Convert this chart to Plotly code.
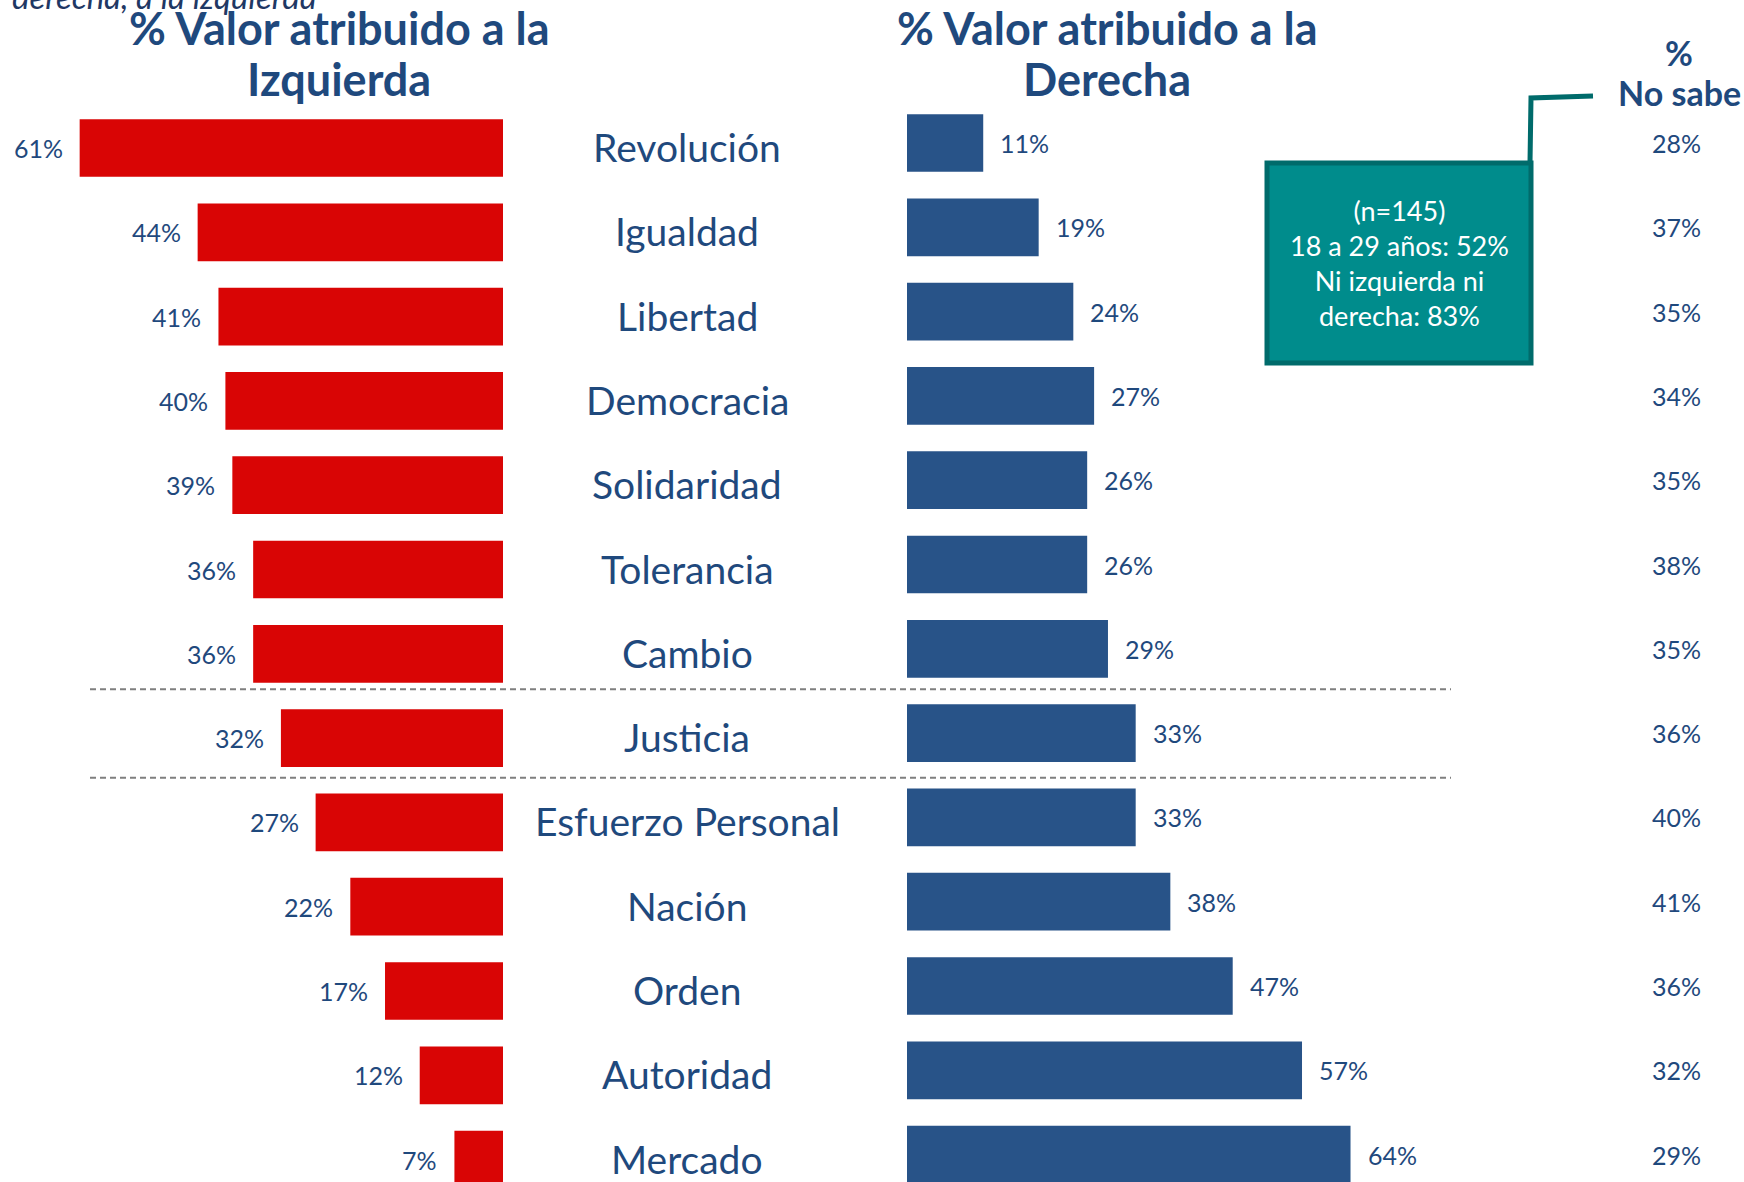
import plotly.graph_objects as go

W, H = 1744, 1182

categorias = ["Revolución", "Igualdad", "Libertad", "Democracia", "Solidaridad",
              "Tolerancia", "Cambio", "Justicia", "Esfuerzo Personal", "Nación",
              "Orden", "Autoridad", "Mercado"]
izquierda = [61, 44, 41, 40, 39, 36, 36, 32, 27, 22, 17, 12, 7]
derecha = [11, 19, 24, 27, 26, 26, 29, 33, 33, 38, 47, 57, 64]
no_sabe = [28, 37, 35, 34, 35, 38, 35, 36, 40, 41, 36, 32, 29]

titulo_izq = ["% Valor atribuido a la", "Izquierda"]
titulo_der = ["% Valor atribuido a la", "Derecha"]
titulo_ns = ["%", "No sabe"]
nota = ["(n=145)", "18 a 29 años: 52%", "Ni izquierda ni", "derecha: 83%"]
subtitulo = "derecha, a la izquierda"

RED = "#D90505"
BLUE = "#285388"
NAVY = "#1F497D"
TEAL = "#008C8C"
TEAL_D = "#006B6B"
FONT = "Lato"

def px(x):
    return x / W

def py(y):
    return 1 - y / H

idx = list(range(len(categorias)))
pitch = 84.3
c_left, c_right = 148.0, 143.0
bw = 57.7 / pitch

fig = go.Figure()
fig.add_trace(go.Bar(orientation="h", y=idx, x=izquierda, xaxis="x", yaxis="y",
                     width=bw, marker=dict(color=RED, line=dict(width=0)),
                     hoverinfo="skip", showlegend=False))
fig.add_trace(go.Bar(orientation="h", y=idx, x=derecha, xaxis="x2", yaxis="y2",
                     width=bw, marker=dict(color=BLUE, line=dict(width=0)),
                     hoverinfo="skip", showlegend=False))

ann = []
for i, (c, l, r, n) in enumerate(zip(categorias, izquierda, derecha, no_sabe)):
    ann.append(dict(xref="x", yref="y", x=l, y=i, text=f"{l}%", xanchor="right",
                    yanchor="middle", xshift=-15, showarrow=False,
                    font=dict(family=FONT, size=25, color=NAVY)))
    ann.append(dict(xref="x2", yref="y2", x=r, y=i, text=f"{r}%", xanchor="left",
                    yanchor="middle", xshift=15, showarrow=False,
                    font=dict(family=FONT, size=25, color=NAVY)))
    ann.append(dict(xref="paper", yref="y", x=px(687), y=i, text=c, xanchor="center",
                    yanchor="middle", yshift=1, showarrow=False,
                    font=dict(family=FONT, size=39, color=NAVY)))
    ann.append(dict(xref="paper", yref="y2", x=px(1676), y=i, text=f"{n}%", xanchor="center",
                    yanchor="middle", showarrow=False,
                    font=dict(family=FONT, size=25, color=NAVY)))

for t, yy in zip(titulo_izq, [28, 79]):
    ann.append(dict(xref="paper", yref="paper", x=px(339), y=py(yy), text=f"<b>{t}</b>",
                    xanchor="center", yanchor="middle", showarrow=False,
                    font=dict(family=FONT, size=45, color=NAVY)))
for t, yy in zip(titulo_der, [28, 79]):
    ann.append(dict(xref="paper", yref="paper", x=px(1107), y=py(yy), text=f"<b>{t}</b>",
                    xanchor="center", yanchor="middle", showarrow=False,
                    font=dict(family=FONT, size=45, color=NAVY)))
for t, yy in zip(titulo_ns, [52, 93]):
    ann.append(dict(xref="paper", yref="paper", x=px(1679), y=py(yy), text=f"<b>{t}</b>",
                    xanchor="center", yanchor="middle", showarrow=False,
                    font=dict(family=FONT, size=34, color=NAVY)))

ann.append(dict(xref="paper", yref="paper", x=px(10), y=py(-4), text=f"<i>{subtitulo}</i>",
                xanchor="left", yanchor="middle", showarrow=False,
                font=dict(family=FONT, size=33, color="#1F3864")))

ann.append(dict(xref="paper", yref="paper", x=px(1399), y=py(263), text="<br>".join(nota),
                xanchor="center", yanchor="middle", showarrow=False, align="center",
                font=dict(family=FONT, size=27, color="white")))

shapes = [
    dict(type="rect", xref="paper", yref="paper", x0=px(1267), x1=px(1531), y0=py(163), y1=py(363),
         fillcolor=TEAL, line=dict(color=TEAL_D, width=5), layer="above"),
    dict(type="path", xref="paper", yref="paper",
         path=f"M {px(1530)} {py(163)} L {px(1531)} {py(98)} L {px(1593)} {py(96)}",
         line=dict(color=TEAL_D, width=5)),
]
for yy in [6.48, 7.53]:
    shapes.append(dict(type="line", xref="paper", yref="y2", x0=px(90), x1=px(1451), y0=yy, y1=yy,
                       line=dict(color="#7F7F7F", width=2, dash="6px,4px")))

fig.update_layout(
    width=W, height=H, margin=dict(l=0, r=0, t=0, b=0),
    paper_bgcolor="white", plot_bgcolor="rgba(0,0,0,0)",
    barmode="overlay", showlegend=False,
    xaxis=dict(domain=[0, px(503)], range=[503 / 6.94, 0], visible=False, fixedrange=True),
    yaxis=dict(domain=[0, 1], range=[(H - c_left) / pitch, -c_left / pitch], visible=False),
    xaxis2=dict(domain=[px(907), 1], range=[0, (W - 907) / 6.93], visible=False, anchor="y2"),
    yaxis2=dict(domain=[0, 1], range=[(H - c_right) / pitch, -c_right / pitch], visible=False,
                anchor="x2"),
    annotations=ann, shapes=shapes,
)

fig.write_html("out.html", config={"displayModeBar": False},
               post_script="document.body.style.margin='0px';document.body.style.overflow='hidden';")
